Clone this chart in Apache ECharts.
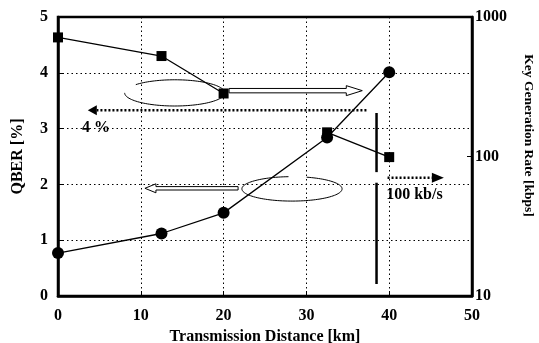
<!DOCTYPE html>
<html>
<head>
<meta charset="utf-8">
<script src="https://cdn.jsdelivr.net/npm/echarts@6/dist/echarts.min.js"></script>
<style>
  html, body { margin: 0; padding: 0; background: #fff; }
  #chart { width: 539px; height: 343px; }
</style>
</head>
<body>
<div id="chart"></div>
<script>
// values
const distance = [0, 12.5, 20, 32.5, 40];           // km
const qber = [0.77, 1.12, 1.49, 2.84, 4.01];        // %
const keyRate = [714, 525, 283, 149, 99];           // kbps
const rateBreak = 3;   // the key-rate curve is not joined between 20 km and 32.5 km
const xTicks = [0, 10, 20, 30, 40, 50];
const qberTicks = [0, 1, 2, 3, 4, 5];
const rateTicks = [10, 100, 1000];

const FONT = '"Liberation Serif", "Times New Roman", serif';
const black = '#000';

let qberData = distance.map((d, i) => [d, qber[i]]);
let rateData = distance.map((d, i) => [d, keyRate[i]]);

function rateSeries(data) {
    return {
        name: 'Key Generation Rate', type: 'line', yAxisIndex: 1,
        data: data,
        symbol: 'rect', symbolSize: 10,
        itemStyle: { color: black },
        lineStyle: { color: black, width: 1.3 },
        z: 4,
    };
}

let chart = echarts.init(document.getElementById('chart'));
chart.setOption({
    animation: false,
    backgroundColor: '#fff',
    grid: {
        left: 58, right: 67, top: 17, bottom: 47,
        outerBoundsMode: 'none',
        show: true, borderColor: black, borderWidth: 2.5,
    },
    xAxis: {
        type: 'value',
        min: xTicks[0], max: xTicks[xTicks.length - 1], interval: 10,
        name: 'Transmission Distance [km]',
        nameLocation: 'middle', nameGap: 33,
        nameTextStyle: { fontFamily: FONT, fontWeight: 'bold', fontSize: 16, color: black },
        axisLine: { lineStyle: { color: black, width: 2.5 } },
        axisTick: { inside: true, length: 5, lineStyle: { color: black, width: 1 } },
        axisLabel: { margin: 12, fontFamily: FONT, fontWeight: 'bold', fontSize: 16, color: black },
        splitLine: { show: true, lineStyle: { color: black, width: 1, type: [1.5, 3] } },
    },
    yAxis: [
        {
            type: 'value',
            min: qberTicks[0], max: qberTicks[qberTicks.length - 1], interval: 1,
            name: 'QBER [%]',
            nameLocation: 'middle', nameGap: 32, nameRotate: 90,
            nameTextStyle: { fontFamily: FONT, fontWeight: 'bold', fontSize: 16, color: black },
            axisLine: { show: true, lineStyle: { color: black, width: 2.5 } },
            axisTick: { show: true, inside: true, length: 5, lineStyle: { color: black } },
            axisLabel: { margin: 10, fontFamily: FONT, fontWeight: 'bold', fontSize: 16, color: black },
            splitLine: { show: true, lineStyle: { color: black, width: 1, type: [1.5, 3] } },
        },
        {
            type: 'log', logBase: 10,
            min: rateTicks[0], max: rateTicks[rateTicks.length - 1],
            name: 'Key Generation Rate [kbps]',
            nameLocation: 'middle', nameGap: 49, nameRotate: -90,
            nameTextStyle: {
                fontFamily: FONT, fontWeight: 'bold', fontSize: 13.5, color: black,
                padding: [0, 42, 0, 0],
            },
            axisLine: { show: true, lineStyle: { color: black, width: 2.5 } },
            axisTick: { show: true, inside: true, length: 5, lineStyle: { color: black } },
            axisLabel: {
                margin: 3, fontFamily: FONT, fontWeight: 'bold', fontSize: 16, color: black,
                formatter: v => String(Math.round(v)),
            },
            splitLine: { show: false },
            minorTick: { show: false },
        },
    ],
    series: [
        {
            name: 'QBER', type: 'line', yAxisIndex: 0,
            data: qberData,
            symbol: 'circle', symbolSize: 12,
            itemStyle: { color: black },
            lineStyle: { color: black, width: 1.3 },
            z: 5,
        },
        rateSeries(rateData.slice(0, rateBreak)),
        rateSeries(rateData.slice(rateBreak)),
    ],
});

// annotations, anchored in data coordinates (km, QBER %)
function px(x, y) {
    return chart.convertToPixel({ xAxisIndex: 0, yAxisIndex: 0 }, [x, y]);
}

function ellipsePoints(cx, cy, rx, ry, a0, a1) {
    let c = px(cx, cy);
    let rxp = px(cx + rx, cy)[0] - c[0];
    let ryp = c[1] - px(cx, cy + ry)[1];
    let pts = [];
    for (let a = a0; a <= a1; a += 3) {
        let t = a * Math.PI / 180;
        pts.push([c[0] + rxp * Math.cos(t), c[1] - ryp * Math.sin(t)]);
    }
    return pts;
}

function hollowArrow(x1, x2, y, s, h, L) {
    let a = px(x1, y), b = px(x2, y);
    let dir = b[0] > a[0] ? 1 : -1;
    let yy = a[1], hx = b[0] - dir * L;
    return {
        type: 'polygon',
        shape: { points: [
            [a[0], yy - s], [hx, yy - s], [hx, yy - h], [b[0], yy],
            [hx, yy + h], [hx, yy + s], [a[0], yy + s]
        ] },
        style: { fill: '#fff', stroke: black, lineWidth: 1 },
        z: 10,
    };
}

function dottedArrow(x1, x2, y, h, L) {
    let a = px(x1, y), b = px(x2, y);
    let dir = b[0] > a[0] ? 1 : -1;
    let hx = b[0] - dir * L;
    return [
        {
            type: 'line',
            shape: { x1: a[0], y1: a[1], x2: hx, y2: a[1] },
            style: { stroke: black, lineWidth: 2.5, lineDash: [2, 2] },
            z: 10,
        },
        {
            type: 'polygon',
            shape: { points: [[hx, a[1] - h], [b[0], a[1]], [hx, a[1] + h]] },
            style: { fill: black },
            z: 10,
        },
    ];
}

function vline(x, y1, y2) {
    let a = px(x, y1), b = px(x, y2);
    return {
        type: 'line',
        shape: { x1: a[0], y1: a[1], x2: b[0], y2: b[1] },
        style: { stroke: black, lineWidth: 2.5 },
        z: 10,
    };
}

function label(x, y, text) {
    let p = px(x, y);
    return {
        type: 'text', x: p[0], y: p[1],
        style: {
            text: text, fontFamily: FONT, fontWeight: 'bold', fontSize: 16,
            fill: black, align: 'center', verticalAlign: 'middle',
        },
        z: 11,
    };
}

let graphics = [
    { type: 'polyline', shape: { points: ellipsePoints(14.1, 3.64, 6.05, 0.235, 180, 501) },
      style: { stroke: black, lineWidth: 1, fill: null }, z: 9 },
    { type: 'polyline', shape: { points: ellipsePoints(28.26, 1.92, 6.05, 0.219, 94, 434) },
      style: { stroke: black, lineWidth: 1, fill: null }, z: 9 },
    hollowArrow(20.66, 36.75, 3.68, 2.2, 5, 16),
    hollowArrow(21.75, 10.5, 1.93, 1.7, 4.5, 11),
    ...dottedArrow(37.25, 3.6, 3.33, 5, 9),
    ...dottedArrow(39.8, 46.6, 2.12, 5, 12),
    vline(38.47, 3.28, 2.22),
    vline(38.47, 2.03, 0.215),
    label(4.6, 3.02, '4 %'),
    label(43.05, 1.81, '100 kb/s'),
];
chart.setOption({ graphic: graphics });
</script>
</body>
</html>
